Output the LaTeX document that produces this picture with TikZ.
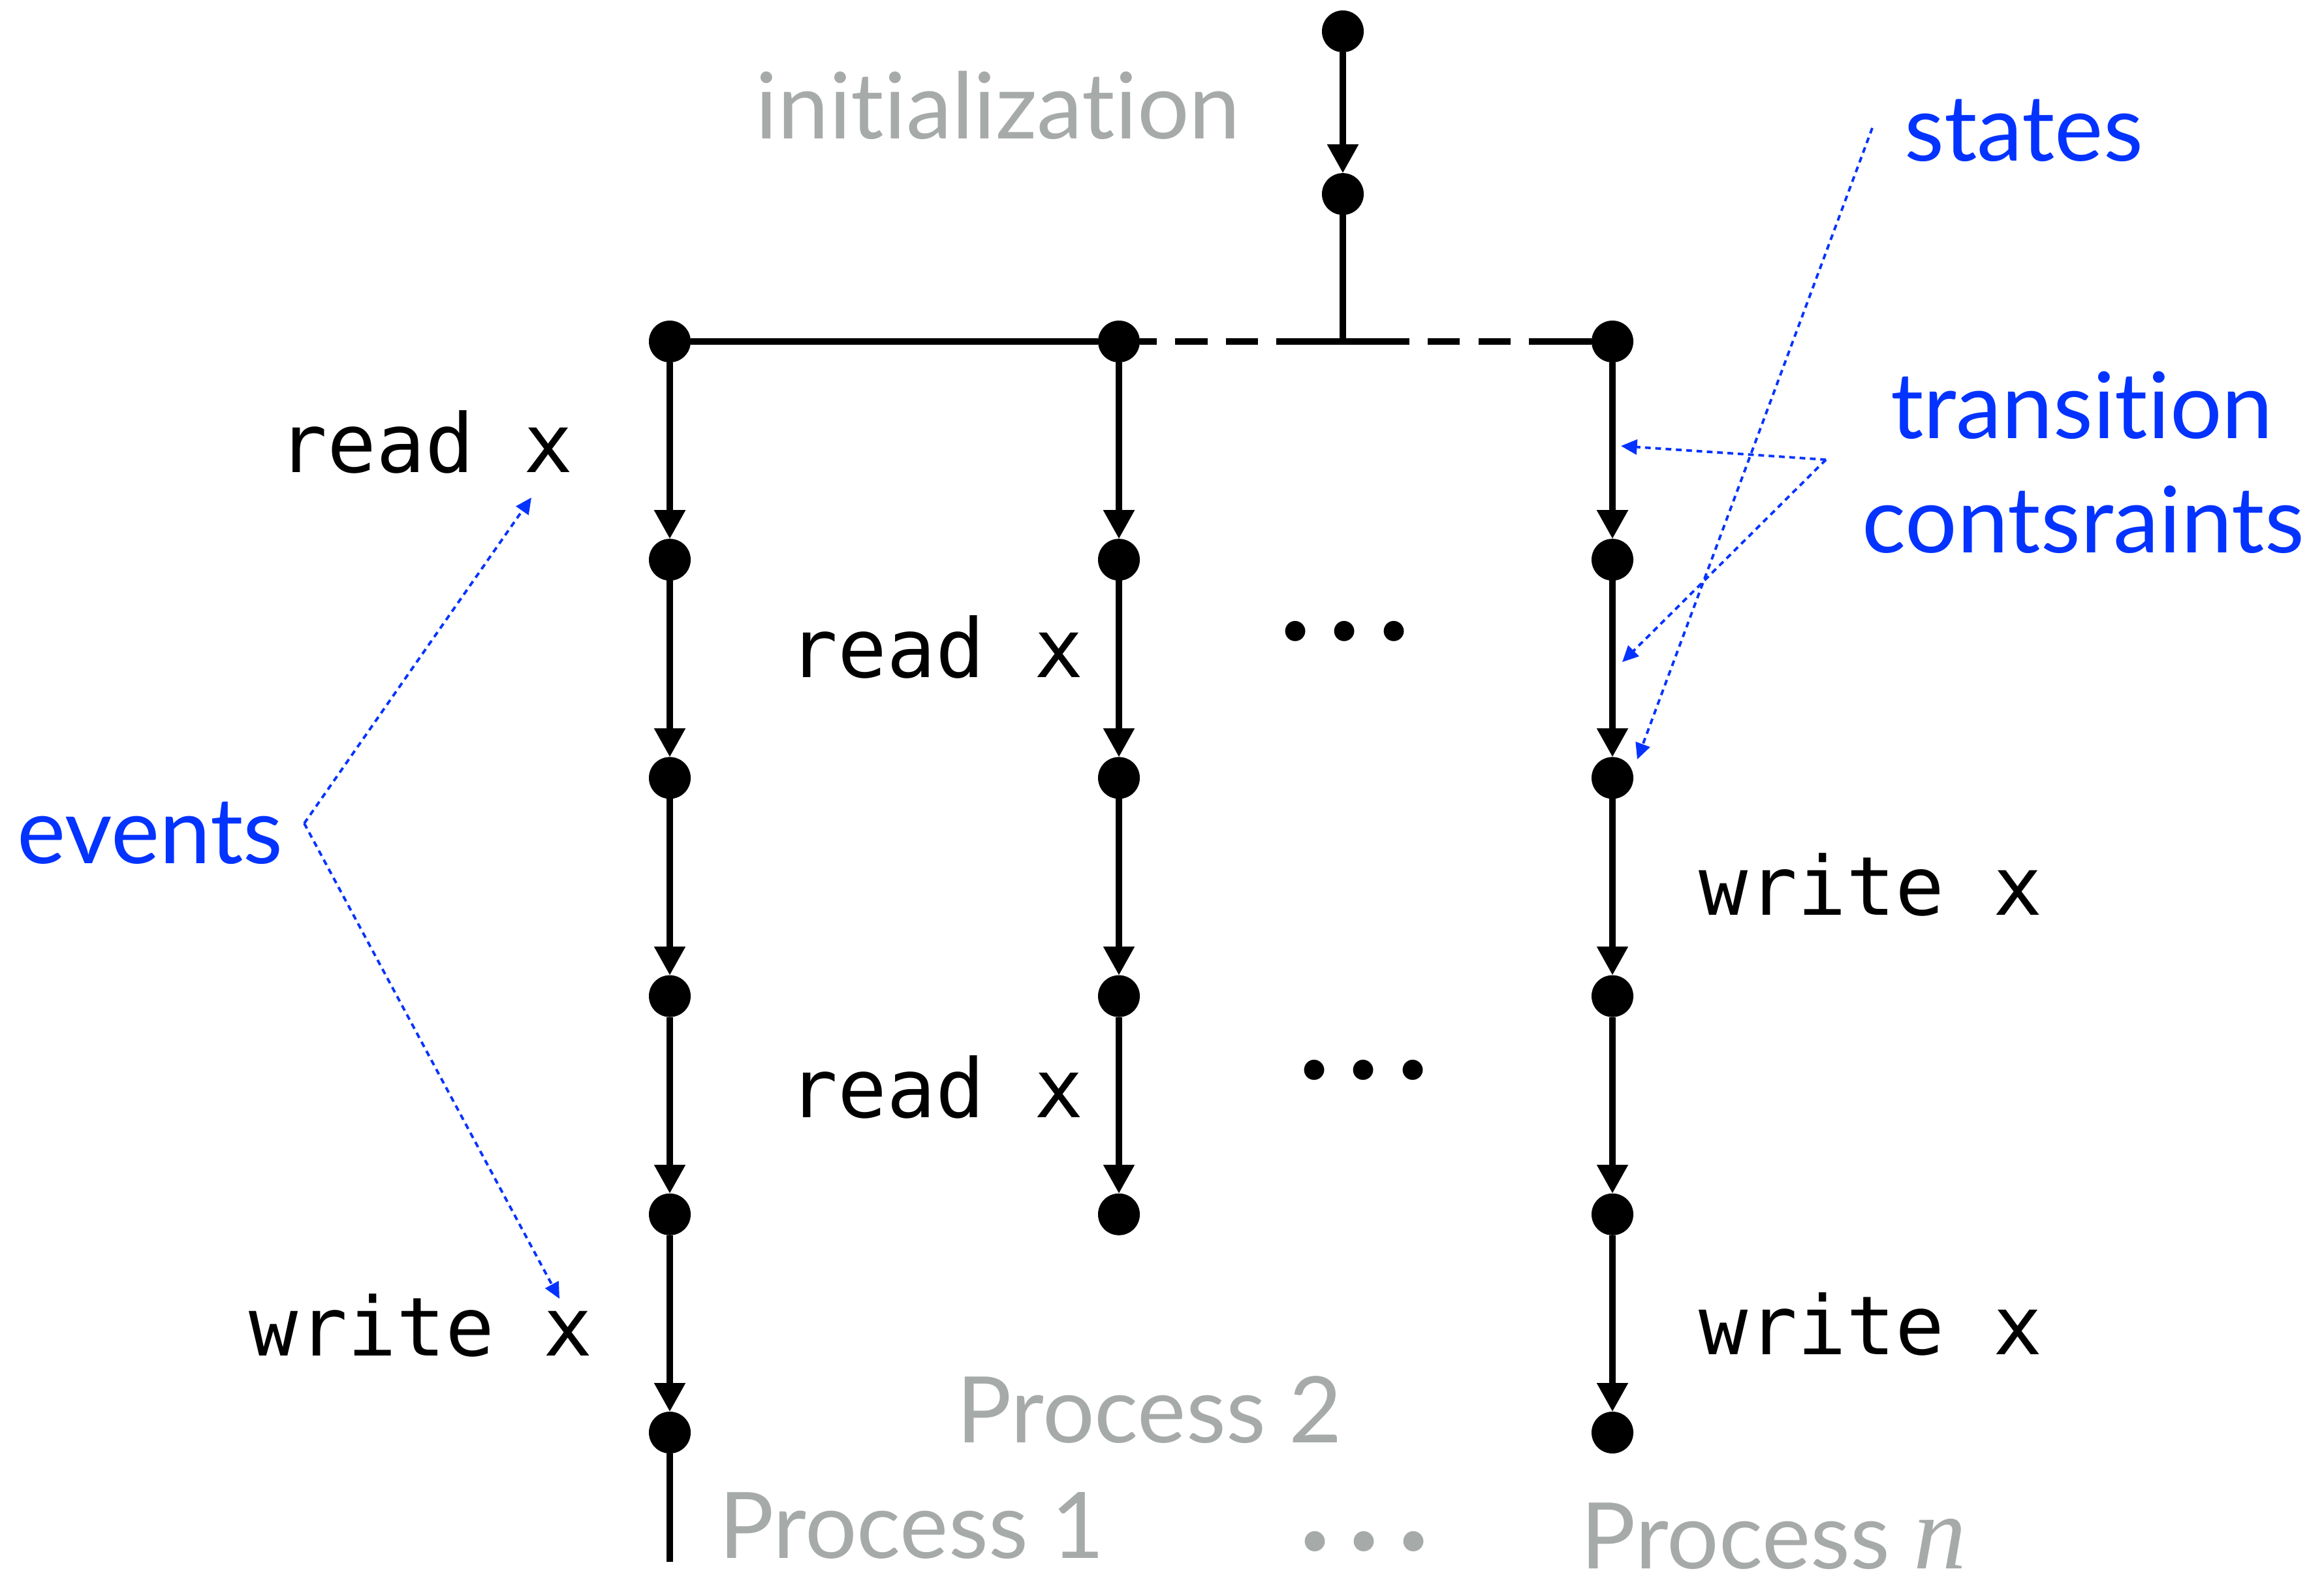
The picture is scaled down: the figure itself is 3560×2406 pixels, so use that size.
\documentclass[tikz,border=0pt]{standalone}
\usepackage{fontspec}
\setmainfont{Lato}[Ligatures={NoCommon,NoRare,NoContextual}]
\setmonofont{DejaVu Sans Mono}
\newfontfamily\varfont{Liberation Serif}
\usepackage{tikz}
\usetikzlibrary{positioning}
\usetikzlibrary{arrows.meta}

\definecolor{noteblue}{RGB}{4,51,255}
\definecolor{labelgray}{RGB}{166,170,169}

\tikzset{
  sdot/.style={circle, fill=black, inner sep=0pt, outer sep=0pt, minimum size=0.64cm},
  link/.style={line width=2.7pt},
  trans/.style={line width=2.7pt, -{Triangle[length=12.5pt,width=13pt]}},
  gap/.style={line width=2.7pt, dash pattern=on 29pt off 8pt on 14pt off 8pt on 14pt off 8pt on 30pt off 8pt},
  note/.style={noteblue, line width=1.1pt, dash pattern=on 2.5pt off 2pt, -{Triangle[length=7pt,width=6.5pt]}},
  op/.style={font=\ttfamily\fontsize{35.5}{42}\selectfont, anchor=base, inner sep=0pt},
  tag/.style={font=\fontsize{40}{50}\selectfont, anchor=base, inner sep=0pt},
  ellip/.style={font=\fontsize{70}{72}\selectfont, anchor=base, inner sep=0pt}
}

\begin{document}
\begin{tikzpicture}[x=0.01cm, y=-0.01cm, node distance=2.7cm]

  \path[use as bounding box, fill=white] (0,0) rectangle (3560,2406);

  % initialization
  \node[sdot] (init0) at (2057,48) {};
  \node[sdot, below=1.85cm of init0] (init1) {};
  \path [trans] (init0) edge (init1);

  % Process 1
  \node[sdot] (p1s0) at (1026,523) {};
  \node[sdot, below=of p1s0] (p1s1) {};
  \node[sdot, below=of p1s1] (p1s2) {};
  \node[sdot, below=of p1s2] (p1s3) {};
  \node[sdot, below=of p1s3] (p1s4) {};
  \node[sdot, below=of p1s4] (p1s5) {};
  \coordinate (p1end) at (1026,2392);

  % Process 2
  \node[sdot] (p2s0) at (1714,523) {};
  \node[sdot, below=of p2s0] (p2s1) {};
  \node[sdot, below=of p2s1] (p2s2) {};
  \node[sdot, below=of p2s2] (p2s3) {};
  \node[sdot, below=of p2s3] (p2s4) {};

  % Process n
  \node[sdot] (pns0) at (2470,523) {};
  \node[sdot, below=of pns0] (pns1) {};
  \node[sdot, below=of pns1] (pns2) {};
  \node[sdot, below=of pns2] (pns3) {};
  \node[sdot, below=of pns3] (pns4) {};
  \node[sdot, below=of pns4] (pns5) {};

  % fork into the processes
  \coordinate (junc) at (init1 |- p1s0);
  \draw [link] (init1) -- (junc);
  \draw [link] (p1s0) -- (p2s0);
  \draw [gap] (junc) -- (p2s0);
  \draw [gap] (junc) -- (pns0);

  \path [trans] (p1s0) edge (p1s1);
  \path [trans] (p1s1) edge (p1s2);
  \path [trans] (p1s2) edge (p1s3);
  \path [trans] (p1s3) edge (p1s4);
  \path [trans] (p1s4) edge (p1s5);
  \draw [link] (p1s5) -- (p1end);

  \path [trans] (p2s0) edge (p2s1);
  \path [trans] (p2s1) edge (p2s2);
  \path [trans] (p2s2) edge (p2s3);
  \path [trans] (p2s3) edge (p2s4);

  \path [trans] (pns0) edge (pns1);
  \path [trans] (pns1) edge (pns2);
  \path [trans] (pns2) edge (pns3);
  \path [trans] (pns3) edge (pns4);
  \path [trans] (pns4) edge (pns5);

  % operations
  \node[op] (rd1) at (652,723) {read x};
  \node[op] (wr1) at (645,2076) {write x};
  \node[op] (rd2a) at (1434,1037) {read x};
  \node[op] (rd2b) at (1434,1711) {read x};
  \node[op] (wrna) at (2866,1401) {write x};
  \node[op] (wrnb) at (2866,2074) {write x};

  \node[ellip] (dotsa) at (2060,980) {.\hspace{5pt}.\hspace{5pt}.};
  \node[ellip] (dotsb) at (2089,1652) {.\hspace{5pt}.\hspace{5pt}.};

  % process names
  \node[tag, labelgray] (init) at (1529,213) {initialization};
  \node[tag, labelgray] (ptwo) at (1761,2209) {Process 2};
  \node[tag, labelgray] (pone) at (1397,2386) {Process 1};
  \node[tag, labelgray] (pn) at (2717,2402) {Process {\varfont\itshape\fontsize{46}{50}\selectfont n}};
  \node[ellip, labelgray] (dotsc) at (2090,2374) {.\hspace{5pt}.\hspace{5pt}.};

  % annotations
  \node[tag, noteblue] (ev) at (230,1322) {events};
  \node[tag, noteblue] (st) at (3100,247) {states};
  \node[tag, noteblue] (tr) at (3189,671) {transition};
  \node[tag, noteblue] (cs) at (3191,846) {contsraints};

  \coordinate (evfork) at (466,1261);
  \coordinate (rdtip) at (814,762);
  \coordinate (wrtip) at (857,1989);
  \draw [note] (evfork) -- (rdtip);
  \draw [note] (evfork) -- (wrtip);

  \coordinate (stfrom) at (2868,196);
  \coordinate (sttip) at (2508,1163);
  \draw [note] (stfrom) -- (sttip);

  \coordinate (tcfork) at (2797,704);
  \coordinate (tctipa) at (2483,683);
  \coordinate (tctipb) at (2485,1014);
  \draw [note] (tcfork) -- (tctipa);
  \draw [note] (tcfork) -- (tctipb);
\end{tikzpicture}
\end{document}
